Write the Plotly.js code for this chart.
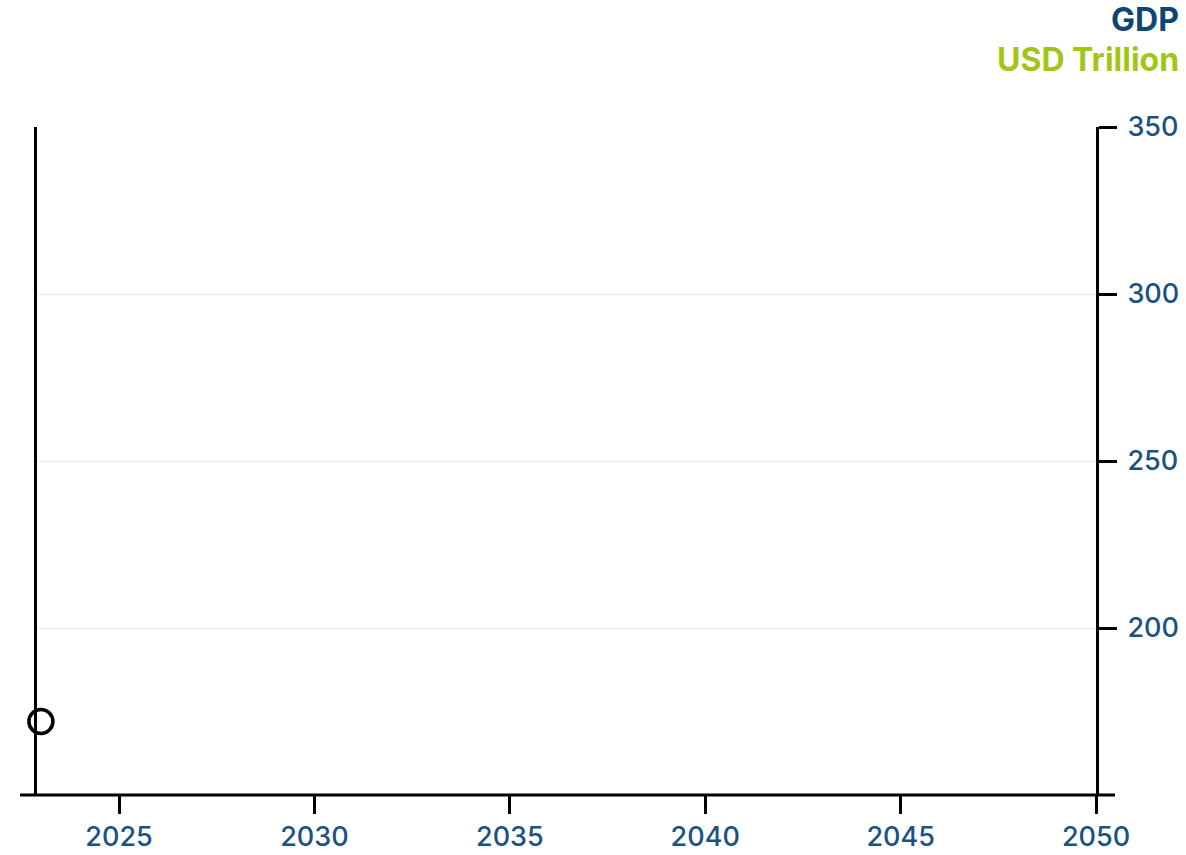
<!DOCTYPE html>
<html>
<head>
<meta charset="utf-8">
<script src="https://cdn.plot.ly/plotly-3.0.1.min.js"></script>
<style>html,body{margin:0;padding:0;background:#fff;}#chart{width:1186px;height:855px;}</style>
</head>
<body>
<div id="chart"></div>
<script>
const years = [2023];
const gdp = [172];
const xTickVals = [2025, 2030, 2035, 2040, 2045, 2050];
const yTickVals = [200, 250, 300, 350];
const titleMain = "GDP";
const titleUnit = "USD Trillion";

const blue = "#1b5282";
const font = "Inter, Roboto, sans-serif";

const trace = {
  x: years, y: gdp, type: "scatter", mode: "markers",
  marker: {size: 24, color: "#ffffff", line: {color: "#000000", width: 3.5}},
  cliponaxis: false, hoverinfo: "skip"
};

const layout = {
  width: 1186, height: 855,
  margin: {l: 37, r: 90, t: 127, b: 60},
  paper_bgcolor: "#ffffff", plot_bgcolor: "#ffffff",
  showlegend: false,
  font: {family: font, color: blue, size: 27},
  xaxis: {
    range: [2022.9, 2050], tickvals: xTickVals, ticktext: xTickVals.map(String),
    showgrid: false, zeroline: false, showline: false,
    ticks: "outside", ticklen: 18, tickwidth: 3, tickcolor: "#000",
    ticklabelstandoff: 0,
    tickfont: {family: font, size: 27, color: blue, weight: 500}
  },
  yaxis: {
    range: [150, 350], tickvals: yTickVals, side: "right",
    showgrid: true, gridcolor: "#ececec", gridwidth: 1, zeroline: false,
    showline: true, linecolor: "#000", linewidth: 3, mirror: true,
    ticks: "outside", ticklen: 18, tickwidth: 3, tickcolor: "#000",
    ticklabelstandoff: 5,
    tickfont: {family: font, size: 27, color: blue, weight: 500}
  },
  shapes: [{
    type: "line", xref: "paper", yref: "paper",
    x0: -17/1059, x1: 1 + 19/1059, y0: 0, y1: 0,
    line: {color: "#000", width: 3}
  }],
  annotations: [
    {xref: "paper", yref: "paper", x: 1 + 85/1059, y: 1 + 107/668, xanchor: "right", yanchor: "middle",
     text: "<b>" + titleMain + "</b>", showarrow: false, font: {family: font, size: 32, color: "#0d4675"}},
    {xref: "paper", yref: "paper", x: 1 + 85/1059, y: 1 + 67/668, xanchor: "right", yanchor: "middle",
     text: "<b>" + titleUnit + "</b>", showarrow: false, font: {family: font, size: 32, color: "#a2c617"}}
  ]
};

Plotly.newPlot("chart", [trace], layout, {displayModeBar: false, staticPlot: true});
</script>
</body>
</html>
